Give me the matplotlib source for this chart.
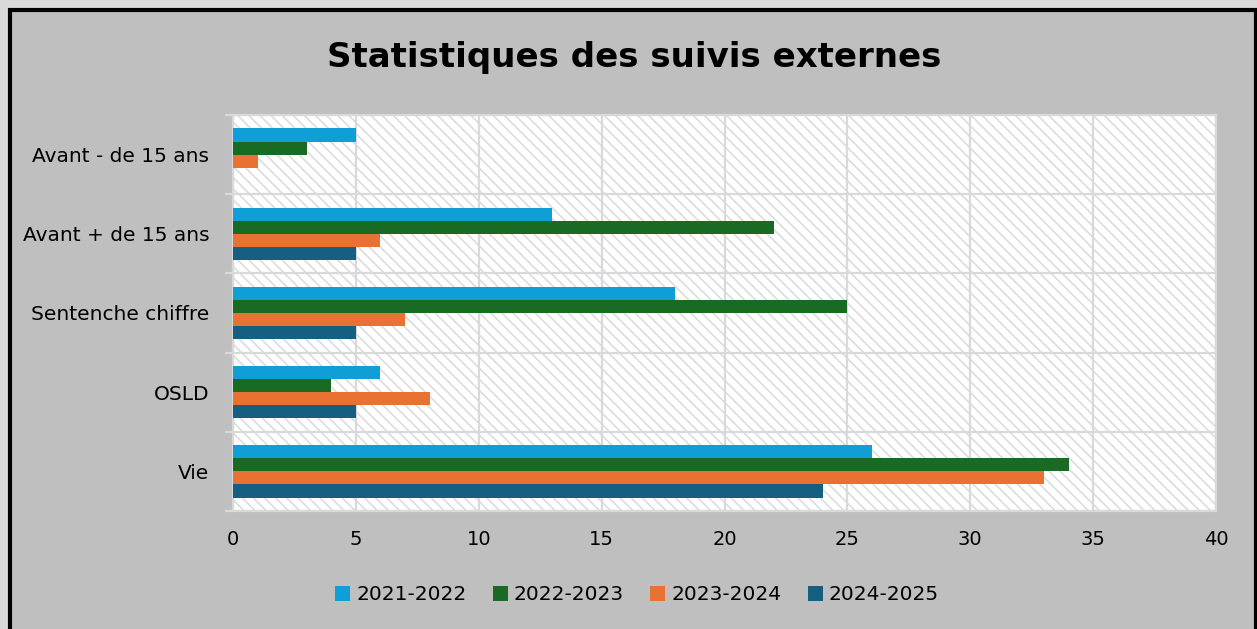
import numpy as np
import matplotlib.pyplot as plt
from matplotlib.patches import Rectangle, Patch

categories = ["Avant - de 15 ans", "Avant + de 15 ans", "Sentenche chiffre", "OSLD", "Vie"]
series_names = ["2021-2022", "2022-2023", "2023-2024", "2024-2025"]
values_2021 = [5, 13, 18, 6, 26]
values_2022 = [3, 22, 25, 4, 34]
values_2023 = [1, 6, 7, 8, 33]
values_2024 = [0, 5, 5, 5, 24]
colors = ["#0F9ED5", "#196B24", "#E97132", "#156082"]

GRID = "#d9d9d9"
plt.rcParams["hatch.linewidth"] = 1.2

fig = plt.figure(figsize=(12.57, 6.29), dpi=100)
fig.patch.set_facecolor("#d9d9d9")

# grey chart panel with the black frame
W, H = 1257, 629
frame = Rectangle((10 / W, -0.05), (1256 - 10) / W, 1.05 - 10 / H,
                  transform=fig.transFigure, facecolor="#bfbfbf",
                  edgecolor="black", linewidth=3, zorder=-10)
fig.patches.append(frame)

ax = fig.add_axes([233 / W, 1 - 511 / H, (1216 - 233) / W, (511 - 115) / H])
ax.set_zorder(1)
ax.set_facecolor("white")
ax.add_patch(Rectangle((0, 0), 1, 1, transform=ax.transAxes, facecolor="white",
                       edgecolor="#dcdcdc", hatch="\\\\\\", linewidth=0, zorder=0))

y = np.arange(len(categories))
h = 0.165
all_values = [values_2021, values_2022, values_2023, values_2024]
for i, (name, vals, col) in enumerate(zip(series_names, all_values, colors)):
    ax.barh(y + (i - 1.5) * h, vals, height=h, color=col, label=name, zorder=3)

ax.set_xlim(0, 40)
ax.set_ylim(len(categories) - 0.5, -0.5)
ax.set_xticks(np.arange(0, 41, 5))
ax.set_yticks(y)
ax.set_yticklabels(categories)
ax.set_yticks(np.arange(-0.5, len(categories)), minor=True)

ax.grid(True, axis="x", which="major", color=GRID, linewidth=1.6, zorder=1)
ax.grid(True, axis="y", which="minor", color=GRID, linewidth=1.6, zorder=1)
ax.set_axisbelow(True)
for sp in ax.spines.values():
    sp.set_color(GRID)
    sp.set_linewidth(1.6)

ax.tick_params(axis="y", which="major", length=0, labelsize=14.5, pad=17)
ax.tick_params(axis="y", which="minor", length=6, color=GRID, width=1.6)
ax.tick_params(axis="x", length=0, labelsize=14, pad=14)

fig.text(634 / W, 1 - 57 / H, "Statistiques des suivis externes", ha="center",
         va="center", fontsize=24.5, fontweight="bold")

handles = [Patch(facecolor=c, label=n) for c, n in zip(colors, series_names)]
fig.legend(handles=handles, loc="center", bbox_to_anchor=(637 / W, 1 - 595 / H),
           ncol=4, frameon=False, fontsize=14.5, handlelength=0.75, handleheight=0.75,
           handletextpad=0.3, columnspacing=1.3)

fig.savefig("out.png", dpi=100, facecolor=fig.get_facecolor())
